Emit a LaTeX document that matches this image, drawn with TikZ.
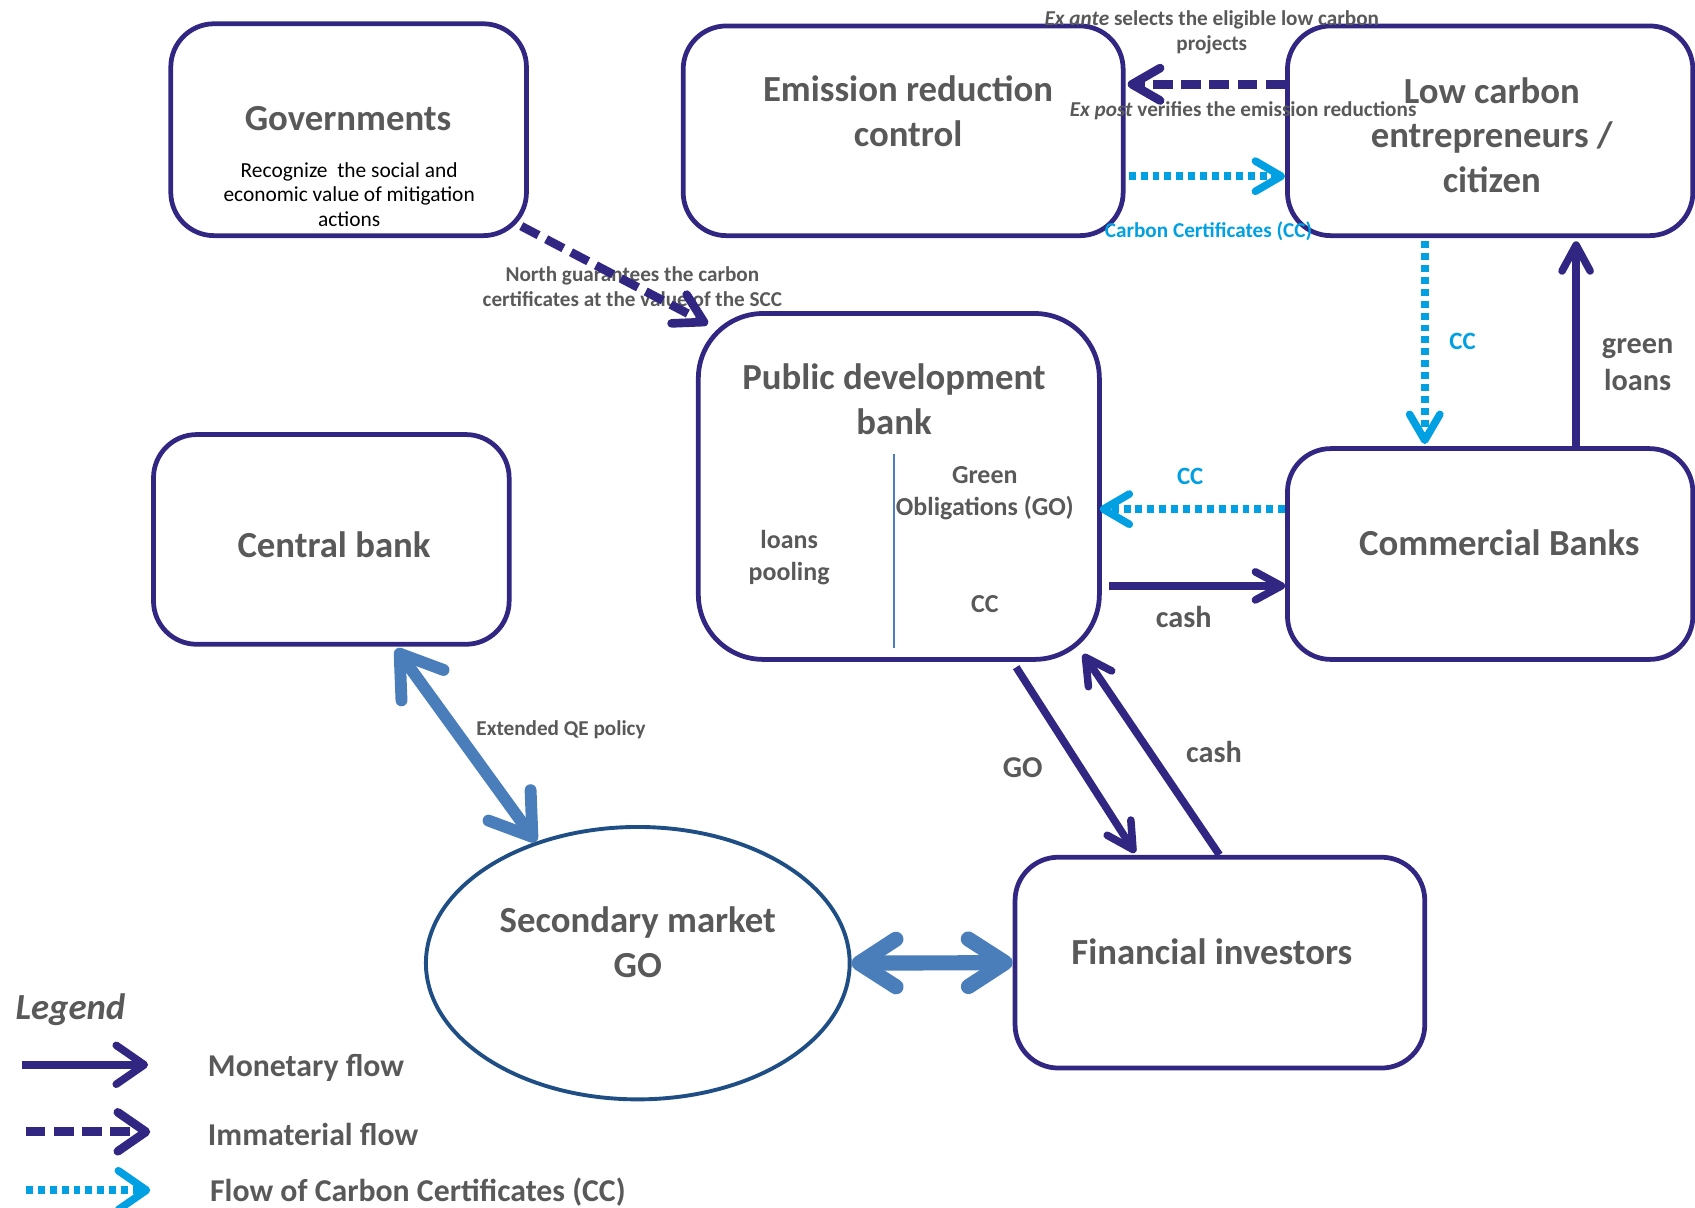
\documentclass[tikz,border=0pt]{standalone}
\usepackage{fontspec}
\setmainfont{Carlito}
\usetikzlibrary{arrows.meta,shapes.geometric,calc}
\definecolor{indigo}{HTML}{312783}
\definecolor{ccblue}{HTML}{00A0E3}
\definecolor{steel}{HTML}{4A7EBB}
\definecolor{ellblue}{HTML}{1F4E85}
\definecolor{txtgray}{HTML}{595959}
\begin{document}
\begin{tikzpicture}[x=0.5pt,y=-0.5pt,
  box/.style={draw=indigo,line width=2.2pt,rounded corners=20pt,inner sep=0pt},
  title/.style={text=txtgray,font=\fontsize{17}{20.75}\selectfont\bfseries,align=center,inner sep=0pt},
  smalllab/.style={text=txtgray,font=\fontsize{9.8}{11.5}\selectfont\bfseries,align=center,inner sep=0pt},
  midlab/.style={text=txtgray,font=\fontsize{14}{17}\selectfont\bfseries,align=center,inner sep=0pt},
  innerlab/.style={text=txtgray,font=\fontsize{12}{15}\selectfont\bfseries,align=center,inner sep=0pt},
  cclab/.style={text=ccblue,font=\fontsize{11.5}{14}\selectfont\bfseries,align=center,inner sep=0pt},
  leglab/.style={text=txtgray,font=\fontsize{14.7}{17}\selectfont\bfseries,anchor=west,inner sep=0pt},
  money/.style={draw=indigo,line width=3.5pt,-{Straight Barb[length=12pt,width=13pt,round]}},
  immat/.style={draw=indigo,line width=4pt,dash pattern=on 9pt off 4pt,-{Straight Barb[length=13pt,width=15pt,round]}},
  ccflow/.style={draw=ccblue,line width=3.5pt,dash pattern=on 3.2pt off 2.3pt,-{Straight Barb[length=12pt,width=14pt,round]}},
  qeflow/.style={draw=steel,line width=5.5pt,{Straight Barb[length=18pt,width=24pt,round]}-{Straight Barb[length=18pt,width=24pt,round]}},
  mktflow/.style={draw=steel,line width=7pt,{Straight Barb[length=17pt,width=22pt,round]}-{Straight Barb[length=17pt,width=22pt,round]}},
]
\useasboundingbox (0,0) rectangle (1568,1117);

% boxes
\node[box,minimum width=164.5pt,minimum height=98pt] (gov) at (322.5,120) {};
\node[box,minimum width=203.5pt,minimum height=97pt] (emi) at (835.5,121) {};
\node[box,minimum width=187.5pt,minimum height=97pt] (low) at (1378.5,121) {};
\node[box,rounded corners=30pt,minimum width=185.5pt,minimum height=160pt] (pdb) at (831.5,450) {};
\node[box,minimum width=164.5pt,minimum height=97pt] (cen) at (306.5,499) {};
\node[box,minimum width=187.5pt,minimum height=97.5pt] (com) at (1378.5,512.5) {};
\node[box,minimum width=189.5pt,minimum height=97.5pt] (fin) at (1128.5,890.5) {};
\node[ellipse,draw=ellblue,line width=1.8pt,minimum width=196pt,minimum height=126pt,inner sep=0pt] (sec) at (590,891) {};

% box texts
\node[title] (govt) at (322,110) {Governments};
\node[text=black,font=\fontsize{9.9}{11.5}\selectfont,align=center,inner sep=0pt] (govs) at (323,180) {Recognize~ the social and\\economic value of mitigation\\actions};
\node[title] (emit) at (840,103) {Emission reduction\\control};
\node[title] (lowt) at (1380,125) {Low carbon\\entrepreneurs /\\citizen};
\node[title] (pdbt) at (827,369) {Public development\\bank};
\node[innerlab] (pdbgo) at (911,456) {Green\\Obligations (GO)};
\node[innerlab] (pdblp) at (730,516) {loans\\pooling};
\node[innerlab] (pdbcc) at (911,559) {CC};
\draw[steel,line width=0.8pt] ($(pdb.center)+(-4.5,-30)$) coordinate (divtop) -- ($(pdb.south)+(-4.5,-13)$) coordinate (divbot);
\node[title] (cent) at (309,504) {Central bank};
\node[title] (comt) at (1387,502) {Commercial Banks};
\node[title] (fint) at (1121,880) {Financial investors};
\node[title] (sect) at (590,872) {Secondary market\\GO};

% connector labels
\node[smalllab] (l1) at (585,265) {North guarantees the carbon\\certificates at the value of the SCC};
\node[smalllab] (l2) at (1121,30) {\textit{Ex ante} selects the eligible low carbon\\projects};
\node[smalllab] (l3) at (1150,102) {\textit{Ex post} verifies the emission reductions};
\node[smalllab,text=ccblue] (l4) at (1118,214) {Carbon Certificates (CC)};
\node[cclab] (l5) at (1353,316) {CC};
\node[midlab] (l6) at (1515,337) {green\\loans};
\node[cclab] (l7) at (1101,441) {CC};
\node[midlab] (l8) at (1095,571) {cash};
\node[midlab] (l9) at (946,710) {GO};
\node[midlab] (l10) at (1123,696) {cash};
\node[smalllab] (l11) at (519,675) {Extended QE policy};

% connectors
\draw[immat] ($(gov.south east)+(-7,-11)$) -- ($(pdb.north west)+(11,12)$);
\draw[immat] ($(low.west)+(0,-43)$) -- ($(emi.east)+(2,-43)$);
\draw[ccflow] ($(emi.east)+(3,42)$) -- ($(low.west)+(0,42)$);
\draw[ccflow] ($(low.south)+(-60.5,3)$) -- ($(com.north)+(-60.5,-2)$);
\draw[money] ($(com.north)+(79.5,0)$) -- ($(low.south)+(79.5,3)$);
\draw[ccflow] ($(com.west)+(0,-41.5)$) -- ($(pdb.east)+(-2,21)$);
\draw[money] ($(pdb.east)+(7,92)$) -- ($(com.west)+(0,29.5)$);
\draw[money] ($(pdb.south)+(108.5,5)$) -- ($(fin.north)+(-78.5,-2)$);
\draw[money] ($(fin.north)+(-0.5,0)$) -- ($(pdb.south east)+(-17,-7)$);
\draw[qeflow] ($(cen.south)+(60,2)$) -- (sec.130);
\draw[mktflow] (sec.east) -- (fin.west);

% legend
\node[text=txtgray,font=\fontsize{17}{20}\selectfont\bfseries\itshape,anchor=west,inner sep=0pt] (leg) at (14,934) {Legend};
\coordinate (m1) at (20,985); \coordinate (m2) at (137,985);
\coordinate (i1) at (24,1047); \coordinate (i2) at (139,1047);
\coordinate (c1) at (24,1101); \coordinate (c2) at (139,1101);
\draw[money,-{Straight Barb[length=13pt,width=18pt,round]}] (m1) -- (m2);
\draw[immat,-{Straight Barb[length=13pt,width=18pt,round]}] (i1) -- (i2);
\draw[ccflow,-{Straight Barb[length=13pt,width=18pt,round]}] (c1) -- (c2);
\node[leglab] (lg1) at (192,988) {Monetary flow};
\node[leglab] (lg2) at (192,1049) {Immaterial flow};
\node[leglab] (lg3) at (194,1103) {Flow of Carbon Certificates (CC)};
\end{tikzpicture}
\end{document}
